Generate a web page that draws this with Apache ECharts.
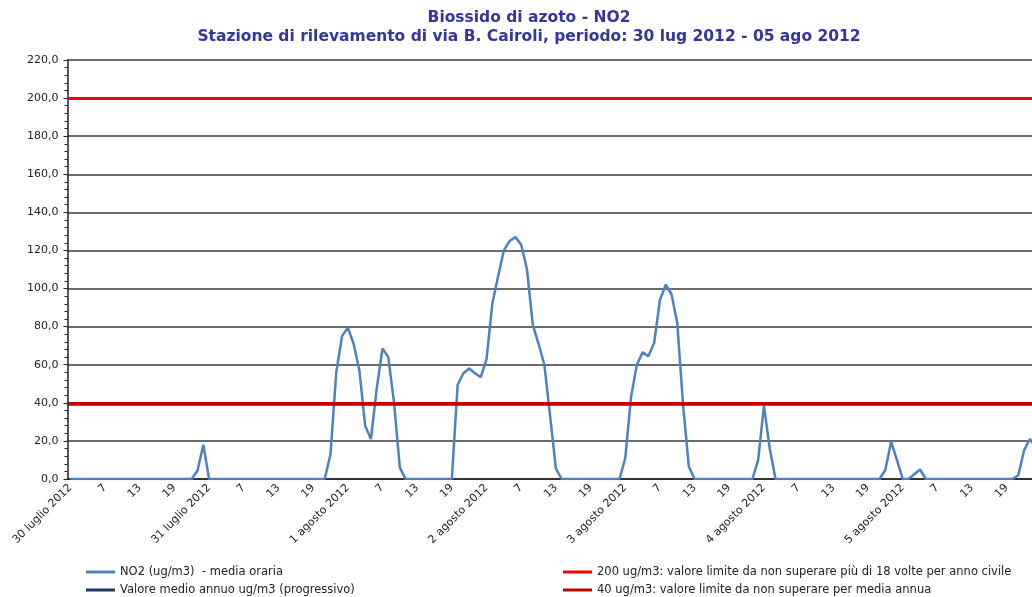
<!DOCTYPE html>
<html>
<head>
<meta charset="utf-8">
<script src="https://cdn.jsdelivr.net/npm/echarts@6/dist/echarts.min.js"></script>
<style>
  html, body { margin: 0; padding: 0; background: #fff; }
  #chart { width: 1032px; height: 597px; }
</style>
</head>
<body>
<div id="chart"></div>
<script>
// giorni del periodo: la prima ora di ogni giorno porta la data come etichetta
const days = ['30 luglio 2012', '31 luglio 2012', '1 agosto 2012', '2 agosto 2012', '3 agosto 2012', '4 agosto 2012', '5 agosto 2012'];
const hours = ['1', '2', '3', '4', '5', '6', '7', '8', '9', '10', '11', '12', '13', '14', '15', '16', '17', '18', '19', '20', '21', '22', '23', '24'];

// NO2 media oraria (ug/m3), 24 valori per giorno
const no2_30lug = [0, 0, 0, 0, 0, 0, 0, 0, 0, 0, 0, 0, 0, 0, 0, 0, 0, 0, 0, 0, 0, 0, 4.5, 18];
const no2_31lug = [0, 0, 0, 0, 0, 0, 0, 0, 0, 0, 0, 0, 0, 0, 0, 0, 0, 0, 0, 0, 0, 13, 56, 75];
const no2_01ago = [79.5, 71, 57, 28, 21, 47.5, 68.5, 64, 40, 6, 0, 0, 0, 0, 0, 0, 0, 0, 0, 49.5, 55.5, 58, 55.5, 53.5];
const no2_02ago = [63, 92, 106.5, 120, 125, 127, 123, 110, 81, 71, 60, 33, 5.5, 0, 0, 0, 0, 0, 0, 0, 0, 0, 0, 0];
const no2_03ago = [11, 43, 60, 66.5, 64.5, 71.5, 94, 102, 97, 82, 39, 6.5, 0, 0, 0, 0, 0, 0, 0, 0, 0, 0, 0, 10];
const no2_04ago = [38.5, 16, 0, 0, 0, 0, 0, 0, 0, 0, 0, 0, 0, 0, 0, 0, 0, 0, 0, 0, 0, 4.7, 19.6, 10];
const no2_05ago = [0, 0, 2.5, 5, 0, 0, 0, 0, 0, 0, 0, 0, 0, 0, 0, 0, 0, 0, 0, 0, 2, 15, 21, 17];

// valori limite e media annua progressiva
const limite200 = 200;
const limite40 = 40;
const mediaAnnua = 39.2;

const NOME_NO2 = 'NO2 (ug/m3)  - media oraria';
const NOME_MEDIA = 'Valore medio annuo ug/m3 (progressivo)';
const NOME_200 = '200 ug/m3: valore limite da non superare più di 18 volte per anno civile';
const NOME_40 = '40 ug/m3: valore limite da non superare per media annua';

const no2 = [].concat(no2_30lug, no2_31lug, no2_01ago, no2_02ago, no2_03ago, no2_04ago, no2_05ago);
let categorie = [];
days.forEach((d) => {
  hours.forEach((h, i) => {
    categorie.push(i === 0 ? d : h);
  });
});

const font = 'DejaVu Sans';
const testo = {fontFamily: font, fontSize: 11.5, color: '#222'};

function lineaLimite(nome, colore, valore, spessore) {
  return {
    name: nome,
    type: 'line',
    data: [],
    color: colore,
    markLine: {
      silent: true,
      symbol: 'none',
      label: {show: false},
      lineStyle: {color: colore, width: spessore, type: 'solid'},
      data: [{yAxis: valore}]
    }
  };
}

const chart = echarts.init(document.getElementById('chart'));
chart.setOption({
  animation: false,
  backgroundColor: '#fff',
  title: {
    text: 'Biossido di azoto - NO2\nStazione di rilevamento di via B. Cairoli, periodo: 30 lug 2012 - 05 ago 2012',
    left: 529,
    top: 8,
    padding: 0,
    textAlign: 'center',
    textStyle: {fontFamily: font, fontSize: 15.5, fontWeight: 'bold', color: '#35359a', lineHeight: 19}
  },
  legend: [{
    data: [NOME_NO2, NOME_MEDIA],
    orient: 'vertical',
    left: 86,
    top: 565,
    padding: 0,
    icon: 'rect',
    itemWidth: 29,
    itemHeight: 3,
    itemGap: 4,
    textStyle: Object.assign({lineHeight: 14}, testo)
  }, {
    data: [NOME_200, NOME_40],
    orient: 'vertical',
    left: 563,
    top: 565,
    padding: 0,
    icon: 'rect',
    itemWidth: 29,
    itemHeight: 3,
    itemGap: 4,
    textStyle: Object.assign({lineHeight: 14}, testo)
  }],
  // l'area del grafico prosegue oltre il bordo destro (immagine ritagliata)
  grid: {left: 67.5, width: 971, top: 60, bottom: 118, outerBoundsMode: 'none'},
  xAxis: {
    type: 'category',
    data: categorie,
    boundaryGap: true,
    axisLine: {lineStyle: {color: '#222', width: 1.5}},
    axisTick: {interval: 5, length: 4, lineStyle: {color: '#222'}},
    axisLabel: {interval: 5, rotate: 45, margin: 7, fontSize: 11, fontFamily: font, color: '#222'},
    splitLine: {show: false}
  },
  yAxis: {
    type: 'value',
    min: 0,
    max: 220,
    interval: 20,
    axisLine: {show: true, lineStyle: {color: '#222', width: 1.5}},
    axisTick: {show: true, length: 4, lineStyle: {color: '#222'}},
    minorTick: {show: true, splitNumber: 5, length: 3, lineStyle: {color: '#222'}},
    axisLabel: {
      margin: 9,
      fontFamily: font,
      fontSize: 11,
      color: '#222',
      formatter: (v) => v.toFixed(1).replace('.', ',')
    },
    splitLine: {show: true, lineStyle: {color: '#3a3a3a', width: 1.5}}
  },
  series: [{
    name: NOME_NO2,
    type: 'line',
    data: no2,
    symbol: 'none',
    color: '#4f81bd',
    lineStyle: {width: 2.5, color: '#4f81bd'}
  },
    lineaLimite(NOME_MEDIA, '#1f3864', mediaAnnua, 2.5),
    lineaLimite(NOME_200, '#ff0000', limite200, 3),
    lineaLimite(NOME_40, '#c00000', limite40, 3)
  ]
});
</script>
</body>
</html>
